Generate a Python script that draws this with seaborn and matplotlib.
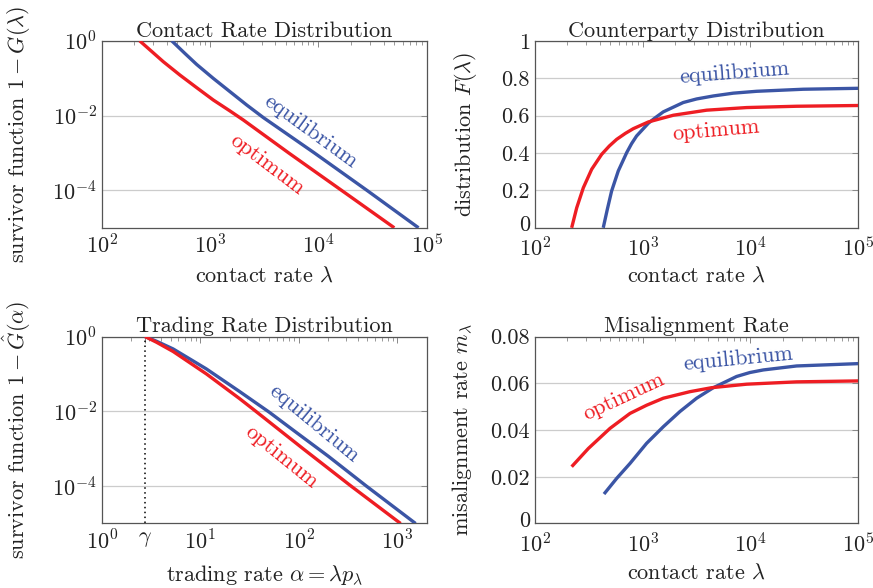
import matplotlib
matplotlib.use("Agg")
import matplotlib.pyplot as plt
import matplotlib.ticker as mticker
import matplotlib.transforms as mtransforms
import numpy as np
import pandas as pd
import seaborn as sns

# ---------------- data ----------------
series_names = ["equilibrium", "optimum"]

contact_x_eq = [443, 587, 753, 1072, 1528, 2181, 3105, 9200, 28100, 84000]
contact_y_eq = [1.0, 0.458, 0.233, 0.0988, 0.0436, 0.0192, 0.00885, 1.0e-3, 1.0e-4, 1.0e-5]
contact_x_opt = [224, 371, 528, 753, 1072, 1528, 2028, 5330, 16380, 50200]
contact_y_opt = [1.0, 0.275, 0.121, 0.0558, 0.0261, 0.0133, 0.00763, 1.0e-3, 1.0e-4, 1.0e-5]

cp_x_eq = [430, 469, 514, 552, 593, 710, 788, 877, 1127, 1300, 1552, 2377, 3162, 4519,
           6920, 11400, 30900, 100000]
cp_y_eq = [0.0, 0.098, 0.196, 0.250, 0.304, 0.402, 0.450, 0.491, 0.559, 0.5875, 0.620,
           0.670, 0.689, 0.705, 0.720, 0.730, 0.741, 0.746]
cp_x_opt = [219, 244, 281, 336, 416, 490, 573, 690, 817, 1127, 1923, 3917, 9204, 26790, 100000]
cp_y_opt = [0.0, 0.107, 0.214, 0.313, 0.393, 0.4375, 0.473, 0.505, 0.530, 0.566, 0.602,
            0.629, 0.643, 0.650, 0.654]

gamma = 2.75
tr_x_eq = [2.75, 3.6, 5.31, 11.56, 25.1, 50.5, 94.2, 200, 488, 1542]
tr_y_eq = [1.0, 0.748, 0.466, 0.136, 0.0339, 0.0094, 0.00275, 6.3e-4, 1.0e-4, 1.0e-5]
tr_x_opt = [2.75, 3.6, 5.31, 11.56, 25.1, 37.1, 112, 341, 1086]
tr_y_opt = [1.0, 0.703, 0.398, 0.100, 0.0219, 0.0098, 9.8e-4, 1.0e-4, 1.0e-5]

mis_x_eq = [437, 573, 762, 1086, 1552, 2213, 3162, 4519, 7430, 9886, 13150, 26790, 100000]
mis_y_eq = [0.0126, 0.0193, 0.0257, 0.0343, 0.0414, 0.0479, 0.0536, 0.0581, 0.0629, 0.0646,
            0.0657, 0.0674, 0.0684]
mis_x_opt = [219, 313, 497, 762, 1086, 1552, 2742, 4355, 9204, 26790, 100000]
mis_y_opt = [0.0243, 0.0321, 0.0407, 0.0471, 0.0506, 0.0536, 0.0564, 0.0581, 0.0596, 0.0606, 0.0610]

titles = ["Contact Rate Distribution", "Counterparty Distribution",
          "Trading Rate Distribution", "Misalignment Rate"]
ylabels = [r"survivor function $1-G(\lambda)$", r"distribution $F(\lambda)$",
           r"survivor function $1-\hat{G}(\alpha)$", r"misalignment rate $m_\lambda$"]
xlabels = [r"contact rate $\lambda$", r"contact rate $\lambda$",
           r"trading rate $\alpha=\lambda p_\lambda$", r"contact rate $\lambda$"]
cp_yticks = [0, 0.2, 0.4, 0.6, 0.8, 1.0]
cp_yticklabels = ["0", "0.2", "0.4", "0.6", "0.8", "1"]
mis_yticks = [0, 0.02, 0.04, 0.06, 0.08]
mis_yticklabels = ["0", "0.02", "0.04", "0.06", "0.08"]
tr_xticks = [1, gamma, 10, 100, 1000]
tr_xticklabels = [r"$10^0$", r"$\gamma$", r"$10^1$", r"$10^2$", r"$10^3$"]

# ---------------- style ----------------
sns.set_theme(style="white")
plt.rcParams["font.family"] = ["cmr10", "DejaVu Serif"]
plt.rcParams["mathtext.fontset"] = "cm"
plt.rcParams["axes.formatter.use_mathtext"] = True
plt.rcParams["axes.unicode_minus"] = True

FS = 16
BLUE = "#3b55a5"
RED = "#ee1d23"
palette = {"equilibrium": BLUE, "optimum": RED}
LW = 2.4

fig = plt.figure(figsize=(8.73, 5.88), dpi=100)
H = 0.3180
ax_tl = fig.add_axes([0.1165, 0.6126, 0.3723, H])
ax_tr = fig.add_axes([0.6128, 0.6126, 0.3703, H])
ax_bl = fig.add_axes([0.1165, 0.1097, 0.3723, H])
ax_br = fig.add_axes([0.6128, 0.1097, 0.3703, H])
axes = [ax_tl, ax_tr, ax_bl, ax_br]


def make_df(xe, ye, xo, yo):
    return pd.concat([
        pd.DataFrame({"x": xe, "y": ye, "series": "equilibrium"}),
        pd.DataFrame({"x": xo, "y": yo, "series": "optimum"}),
    ], ignore_index=True)


datasets = [
    make_df(contact_x_eq, contact_y_eq, contact_x_opt, contact_y_opt),
    make_df(cp_x_eq, cp_y_eq, cp_x_opt, cp_y_opt),
    make_df(tr_x_eq, tr_y_eq, tr_x_opt, tr_y_opt),
    make_df(mis_x_eq, mis_y_eq, mis_x_opt, mis_y_opt),
]

for ax, df in zip(axes, datasets):
    ax.set_xscale("log")
    sns.lineplot(data=df, x="x", y="y", hue="series", palette=palette,
                 estimator=None, sort=False, legend=False, linewidth=LW,
                 ax=ax, zorder=3)
    for ln in ax.get_lines():
        ln.set_solid_joinstyle("round")
        ln.set_solid_capstyle("butt")

# limits / scales
ax_tl.set_yscale("log")
ax_tl.set_xlim(1e2, 1e5)
ax_tl.set_ylim(1e-5, 1)
ax_bl.set_yscale("log")
ax_bl.set_xlim(1, 2000)
ax_bl.set_ylim(1e-5, 1)
ax_tr.set_xlim(1e2, 1e5)
ax_tr.set_ylim(0, 1)
ax_br.set_xlim(1e2, 1e5)
ax_br.set_ylim(0, 0.08)

# ticks
for ax in (ax_tl, ax_bl):
    ax.yaxis.set_major_locator(mticker.FixedLocator([1e-4, 1e-2, 1]))
    ax.yaxis.set_major_formatter(mticker.LogFormatterSciNotation())
    ax.yaxis.set_minor_locator(mticker.NullLocator())
for ax in (ax_tl, ax_tr, ax_br):
    ax.xaxis.set_major_locator(mticker.LogLocator(base=10, numticks=10))
    ax.xaxis.set_major_formatter(mticker.LogFormatterSciNotation())
for ax in axes:
    ax.xaxis.set_minor_locator(mticker.LogLocator(base=10, subs=np.arange(2, 10), numticks=20))
    ax.xaxis.set_minor_formatter(mticker.NullFormatter())

ax_bl.xaxis.set_major_locator(mticker.FixedLocator(tr_xticks))
ax_bl.xaxis.set_major_formatter(mticker.FixedFormatter(tr_xticklabels))
ax_tr.yaxis.set_major_locator(mticker.FixedLocator(cp_yticks))
ax_tr.yaxis.set_major_formatter(mticker.FixedFormatter(cp_yticklabels))
ax_br.yaxis.set_major_locator(mticker.FixedLocator(mis_yticks))
ax_br.yaxis.set_major_formatter(mticker.FixedFormatter(mis_yticklabels))

# dotted gamma line
ax_bl.axvline(gamma, color="black", linestyle=(0, (1, 2.2)), linewidth=1.1, zorder=2)

xlabel_y = [-0.205, -0.205, -0.212, -0.212]
ylabel_x = [-0.214, -0.173, -0.211, -0.186]
xtick_pad = [4, 6, 4, 6]
for i, ax in enumerate(axes):
    ax.set_axisbelow(True)
    ax.grid(False)
    ax.yaxis.grid(True, color="#cccccc", linewidth=0.9)
    for s in ax.spines.values():
        s.set_color("#555555")
        s.set_linewidth(0.9)
    ax.tick_params(which="both", direction="in", top=True, right=True,
                   color="#888888", labelsize=FS, labelcolor="#222222")
    ax.tick_params(axis="x", which="major", pad=xtick_pad[i])
    ax.tick_params(axis="y", which="major", pad=3.5)
    ax.tick_params(which="major", length=4.5, width=0.7)
    ax.tick_params(which="minor", length=3.0, width=0.6)
    ax.set_title(titles[i], fontsize=FS, pad=3, color="#222222")
    ax.set_xlabel(xlabels[i], fontsize=FS, color="#222222", va="top")
    ax.set_ylabel(ylabels[i], fontsize=FS, color="#222222")
    ax.xaxis.set_label_coords(0.5, xlabel_y[i])
    ax.yaxis.set_label_coords(ylabel_x[i], 0.5)

# nudge the "0" y tick labels slightly upward so they clear the x tick labels
up = mtransforms.ScaledTranslation(0, 3 / 72, fig.dpi_scale_trans)
for ax in (ax_tr, ax_br):
    t0 = ax.yaxis.get_major_ticks()[0]
    t0.label1.set_transform(t0.label1.get_transform() + up)

# curve labels
def label(ax, x, y, text, color, rot):
    ax.text(x, y, text, transform=ax.transAxes, color=color, fontsize=FS,
            rotation=rot, ha="center", va="center", rotation_mode="anchor")

label(ax_tl, 0.643, 0.517, "equilibrium", BLUE, -36)
label(ax_tl, 0.510, 0.339, "optimum", RED, -37)
label(ax_tr, 0.616, 0.827, "equilibrium", BLUE, 4.5)
label(ax_tr, 0.560, 0.523, "optimum", RED, 5)
label(ax_bl, 0.653, 0.534, "equilibrium", BLUE, -39.5)
label(ax_bl, 0.554, 0.356, "optimum", RED, -39)
label(ax_br, 0.630, 0.881, "equilibrium", BLUE, 5.5)
label(ax_br, 0.275, 0.679, "optimum", RED, 25)

fig.savefig("out.png", dpi=100)
